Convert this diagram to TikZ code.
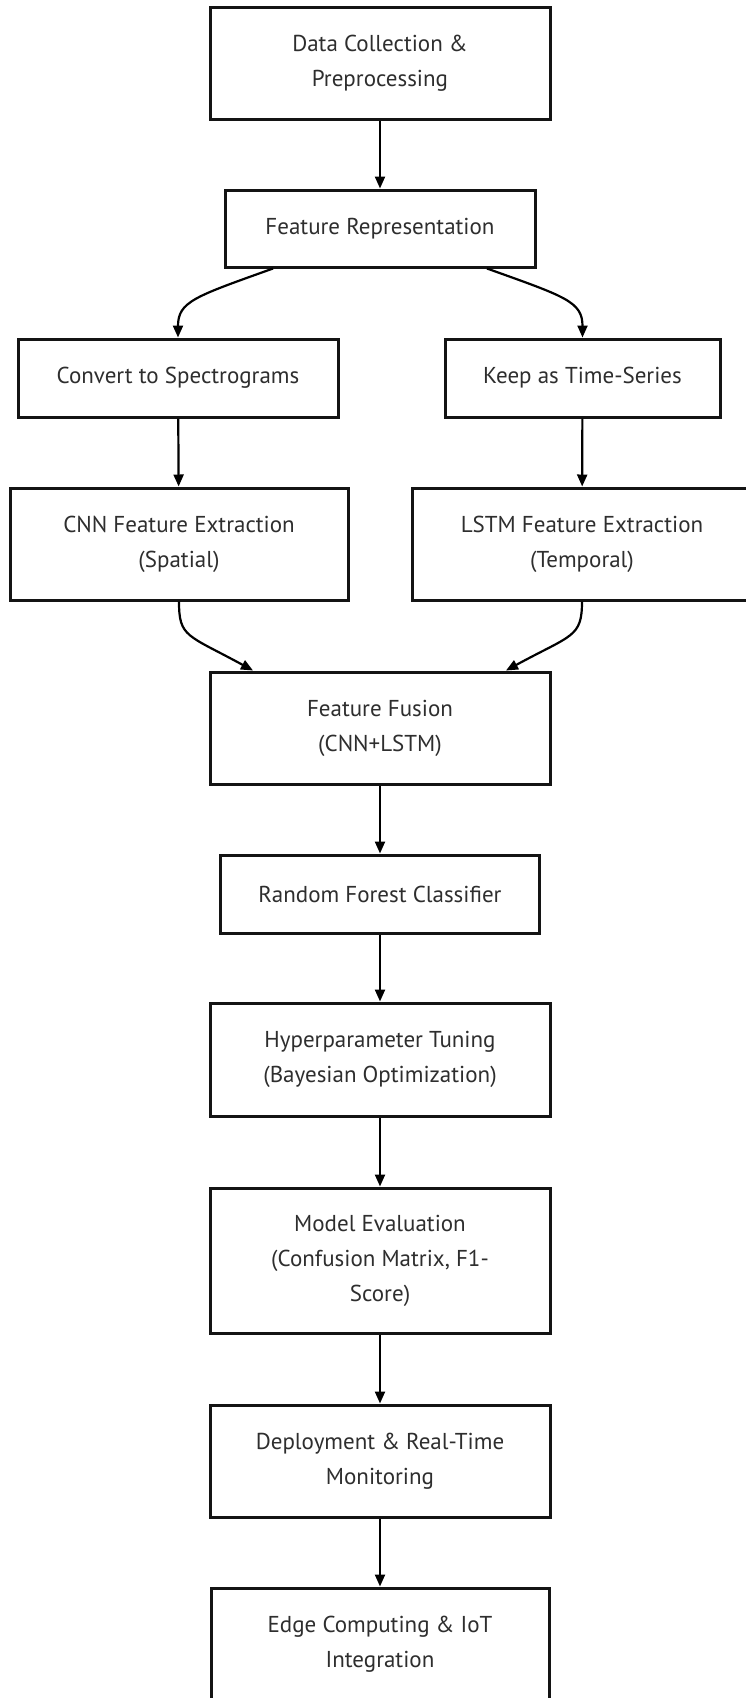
\documentclass[tikz,border=0pt]{standalone}
\usepackage{fontspec}
\setmainfont{PT Sans}
\usetikzlibrary{arrows.meta}
\definecolor{ink}{HTML}{2E2E2E}
\definecolor{frame}{HTML}{141414}
\begin{document}
\begin{tikzpicture}[x=1pt,y=-1pt,
  box/.style={draw=frame, line width=3pt, fill=white, rectangle, inner sep=0pt,
    align=center, text=ink, font=\fontsize{23}{35}\selectfont},
  flow/.style={draw=black, line width=2.2pt, -{Triangle[length=12pt,width=10pt]}}]
\useasboundingbox (0,0) rectangle (746,1698);
\clip (0,0) rectangle (746,1698);

% pipeline stages
\node[box, minimum width=340pt, minimum height=112pt] (dc)   at (380,63)    {Data Collection \&\\Preprocessing};
\node[box, minimum width=310pt, minimum height=77pt]  (fr)   at (380,228.5) {Feature Representation};
\node[box, minimum width=320pt, minimum height=78pt]  (cs)   at (178,378)   {Convert to Spectrograms};
\node[box, minimum width=275pt, minimum height=78pt]  (ts)   at (582.5,378) {Keep as Time-Series};
\node[box, minimum width=338pt, minimum height=112pt] (cnn)  at (179,544)   {CNN Feature Extraction\\(Spatial)};
\node[box, minimum width=340pt, minimum height=112pt] (lstm) at (582,544)   {LSTM Feature Extraction\\(Temporal)};
\node[box, minimum width=340pt, minimum height=112pt] (ff)   at (380,728)   {Feature Fusion\\(CNN+LSTM)};
\node[box, minimum width=319pt, minimum height=78pt]  (rf)   at (380,894)   {Random Forest Classifier};
\node[box, minimum width=340pt, minimum height=113pt] (hp)   at (380,1059.5){Hyperparameter Tuning\\(Bayesian Optimization)};
\node[box, minimum width=340pt, minimum height=145pt] (me)   at (380,1260.5){Model Evaluation\\(Confusion Matrix, F1-\\Score)};
\node[box, minimum width=340pt, minimum height=112pt] (dep)  at (380,1461)  {Deployment \& Real-Time\\Monitoring};
\node[box, minimum width=338pt, minimum height=112pt] (edge) at (380,1644)  {Edge Computing \& IoT\\Integration};

% straight links
\draw[flow] (dc) -- (fr);
\draw[flow] (cs) -- (cnn);
\draw[flow] (ts) -- (lstm);
\draw[flow] (ff) -- (rf);
\draw[flow] (rf) -- (hp);
\draw[flow] (hp) -- (me);
\draw[flow] (me) -- (dep);
\draw[flow] (dep) -- (edge);

% branching links (unitless offsets follow the downward y axis)
\draw[flow] ([xshift=-107pt]fr.south) .. controls +(-78,28) and +(0,-36) .. (cs.north);
\draw[flow] ([xshift=107pt]fr.south) .. controls +(78,28) and +(0,-36) .. (ts.north);

% merging links
\draw[flow] (cnn.south) .. controls +(0,36) and +(-66,-36) .. ([xshift=-127pt]ff.north);
\draw[flow] (lstm.south) .. controls +(0,36) and +(66,-36) .. ([xshift=126pt]ff.north);
\end{tikzpicture}
\end{document}
